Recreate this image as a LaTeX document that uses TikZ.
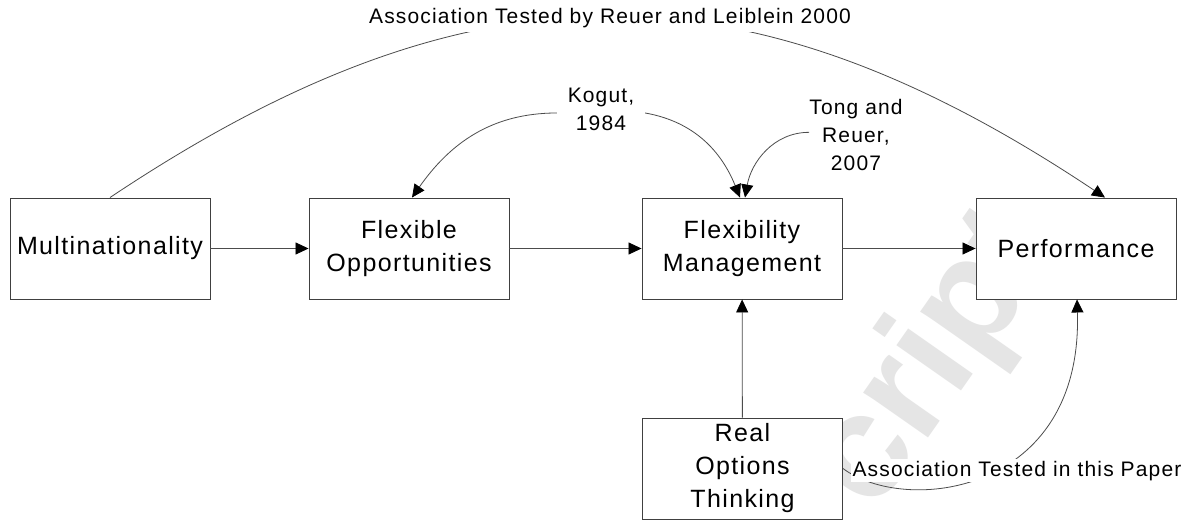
\documentclass[tikz,border=0pt]{standalone}
\usepackage{fontspec}
\setmainfont{Liberation Sans}[LetterSpace=5.5]
\newfontfamily\wmfont{Liberation Sans}
\usetikzlibrary{arrows.meta}
\begin{document}
\begin{tikzpicture}[x=0.75pt,y=-0.75pt,
  box/.style={draw=black!75, line width=0.7pt, fill=white, minimum width=150pt,
    minimum height=75.75pt, inner sep=0pt, align=center,
    font=\fontsize{18.75pt}{24.75pt}\selectfont},
  lbl/.style={align=center, inner sep=0pt, font=\fontsize{15.75pt}{21pt}\selectfont},
  conn/.style={draw=black!70, line width=0.6pt,
    -{Triangle[length=9.75pt,width=9pt,color=black]}},
  plain/.style={draw=black!70, line width=0.6pt}]
\useasboundingbox (0,0) rectangle (1201,523);
\fill[white] (0,0) rectangle (1201,523);
% watermark
\node[rotate=55, text=black!10, inner sep=0pt,
  font=\wmfont\bfseries\fontsize{112pt}{112pt}\selectfont] (wm) at (936,360) {cript};
% boxes
\node[box] (mn) at (110,248.5) {Multinationality};
\node[box] (fo) at (409,248.5) {Flexible\\Opportunities};
\node[box] (fm) at (742,248.5) {Flexibility\\Management};
\node[box] (pf) at (1076,248.5) {Performance};
\node[box] (rot) at (742.5,468.5) {Real\\Options\\Thinking};
% labels
\node[lbl, inner xsep=8pt] (kg) at (601,109) {Kogut,\\1984};
\node[lbl] (tr) at (856,135) {Tong and\\Reuer,\\2007};
% main arrows
\draw[conn] (mn) -- (fo);
\draw[conn] (fo) -- (fm);
\draw[conn] (fm) -- (pf);
\draw[conn] (rot) -- (fm);
% literature arrows
\draw[conn] ([yshift=-3pt]kg.west) to[out=180,in=55] ([xshift=2.25pt]fo.north);
\draw[conn] ([yshift=-3pt]kg.east) to[out=-10,in=112] ([xshift=-1.5pt]fm.north);
\draw[conn] ([yshift=2pt]tr.west) to[out=180,in=80] ([xshift=2.25pt]fm.north);
% top association
\draw[conn] (mn.north) .. controls (470,-43) and (745,-43) .. ([xshift=21.75pt]pf.north);
\node[lbl, fill=white, inner sep=3pt, anchor=base] (ta) at (610,24)
  {Association Tested by Reuer and Leiblein 2000};
% this paper association
\draw[conn] (rot.east) .. controls (905,515) and (1083,495) .. ([xshift=0.75pt]pf.south);
\node[lbl, fill=white, inner sep=1.5pt, anchor=base] (tp) at (1017,476)
  {Association Tested in this Paper};
\end{tikzpicture}
\end{document}
